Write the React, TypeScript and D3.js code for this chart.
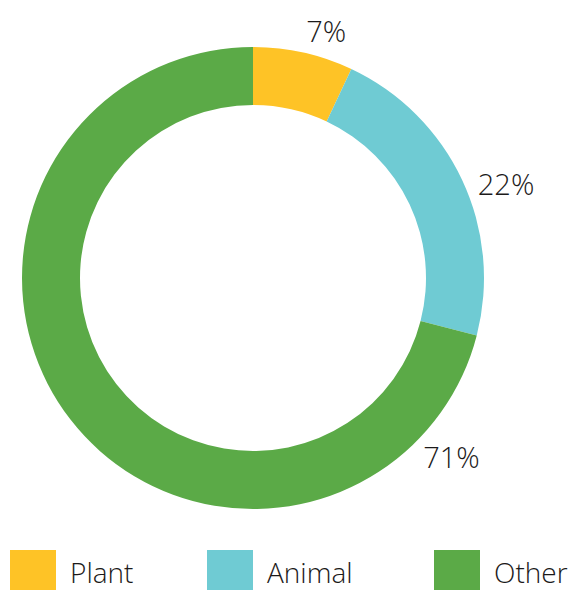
import React from "react";
import * as d3 from "d3";

const categories = ["Plant", "Animal", "Other"];
const values = [7, 22, 71];
const colors = ["#FEC326", "#6FCBD3", "#5BAA47"];

// layout (not data)
const W = 572;
const H = 590;
const CX = 253;
const CY = 278;
const R_OUT = 231;
const R_IN = 173;
const labelAngleDeg = [16.5, 69.6, 132];
const labelRadius = [258, 270, 267];
const legendX = [10, 207, 434];
const FONT = "'Segoe UI', 'Open Sans', 'Noto Sans', sans-serif";

export default function App() {
  const pie = d3.pie<number>().sort(null).value((d) => d);
  const arcs = pie(values);
  const arc = d3.arc<d3.PieArcDatum<number>>().innerRadius(R_IN).outerRadius(R_OUT);
  const total = d3.sum(values);

  return (
    <svg
      width={W}
      height={H}
      style={{ position: "absolute", left: 0, top: 0, background: "#fff" }}
    >
      <g transform={`translate(${CX},${CY})`}>
        {arcs.map((a, i) => (
          <path key={categories[i]} d={arc(a) || ""} fill={colors[i]} />
        ))}
        {arcs.map((a, i) => {
          const ang = (labelAngleDeg[i] * Math.PI) / 180;
          const x = labelRadius[i] * Math.sin(ang);
          const y = -labelRadius[i] * Math.cos(ang);
          return (
            <text
              key={"l" + i}
              x={x}
              y={y}
              textAnchor="middle"
              dominantBaseline="central"
              fontFamily={FONT}
              fontWeight={300}
              fontSize={29}
              fill="#1c1a1a"
            >
              {Math.round((a.data / total) * 100)}%
            </text>
          );
        })}
      </g>
      {categories.map((c, i) => (
        <g key={c} transform={`translate(${legendX[i]},550)`}>
          <rect x={0} y={0} width={46} height={40} fill={colors[i]} />
          <text
            x={60}
            y={33}
            fontFamily={FONT}
            fontWeight={300}
            fontSize={28}
            fill="#1c1a1a"
          >
            {c}
          </text>
        </g>
      ))}
    </svg>
  );
}
